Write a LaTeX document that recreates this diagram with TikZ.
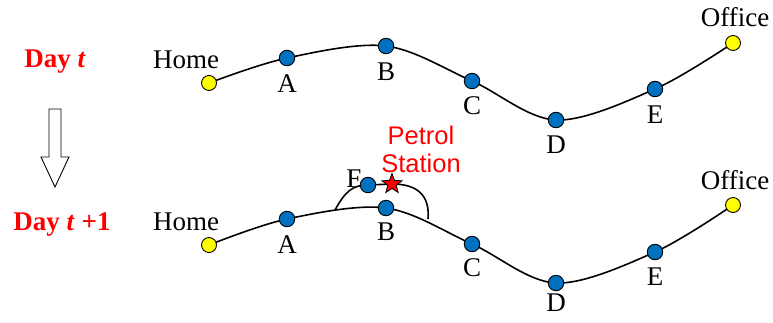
\documentclass[tikz,border=0pt]{standalone}
\usepackage{fontspec}
\setmainfont{Liberation Serif}
\newfontfamily\arialfont{Liberation Sans}
\usetikzlibrary{shapes.geometric,calc}
\definecolor{dotblue}{RGB}{0,112,192}
\definecolor{dotyellow}{RGB}{255,255,0}
\definecolor{lblred}{RGB}{255,0,0}
\tikzset{
  stop/.style={circle,draw=black,line width=0.9pt,fill=dotblue,minimum size=15.5pt,inner sep=0pt},
  endp/.style={circle,draw=black,line width=0.9pt,fill=dotyellow,minimum size=15pt,inner sep=0pt},
  lbl/.style={font=\fontsize{27}{30}\selectfont,inner sep=0pt},
  daylbl/.style={font=\fontsize{27}{30}\selectfont\bfseries,text=lblred,inner sep=0pt},
  route/.style={line width=1.6pt,black},
  pstar/.style={star,star points=5,star point ratio=2.4,draw=black,line width=0.8pt,fill=lblred,minimum size=21pt,inner sep=0pt}
}
\begin{document}
\begin{tikzpicture}[x=1pt,y=-1pt]
\useasboundingbox (0,0) rectangle (773,322);
% ---------- Day t ----------
\coordinate (h1) at (209,83);
\coordinate (a1) at (287,58);
\coordinate (b1) at (386,46);
\coordinate (c1) at (472,81);
\coordinate (d1) at (556,120);
\coordinate (e1) at (655,89);
\coordinate (o1) at (733,43);
\draw[route] plot[smooth,tension=0.55] coordinates {(h1) (a1) (b1) (c1) (d1) (e1) (o1)};
\node[endp] (home1) at (h1) {};
\node[stop] (A1) at (a1) {};
\node[stop] (B1) at (b1) {};
\node[stop] (C1) at (c1) {};
\node[stop] (D1) at (d1) {};
\node[stop] (E1) at (e1) {};
\node[endp] (office1) at (o1) {};
\node[lbl] (homet1) at (186,60) {Home};
\node[lbl] (at1) at (287,84) {A};
\node[lbl] (bt1) at (386,72) {B};
\node[lbl] (ct1) at (472,106) {C};
\node[lbl] (dt1) at (556,145) {D};
\node[lbl] (et1) at (655,115) {E};
\node[lbl] (officet1) at (735,17) {Office};
% ---------- Day t+1 ----------
\coordinate (h2) at (209,245);
\coordinate (a2) at (287,219);
\coordinate (b2) at (386,208);
\coordinate (c2) at (472,244);
\coordinate (d2) at (556,283);
\coordinate (e2) at (655,252);
\coordinate (o2) at (733,205);
\draw[route] plot[smooth,tension=0.55] coordinates {(h2) (a2) (b2) (c2) (d2) (e2) (o2)};
% detour
\coordinate (dstart) at (335,210);
\coordinate (dend) at (428,219);
\coordinate (f2) at (368,185);
\coordinate (s2) at (392,184);
\draw[route] (dstart) .. controls (345,192) and (352,185) .. (f2) -- (s2)
  .. controls (418,184) and (430,196) .. (dend);
\node[endp] (home2) at (h2) {};
\node[stop] (A2) at (a2) {};
\node[stop] (B2) at (b2) {};
\node[stop] (C2) at (c2) {};
\node[stop] (D2) at (d2) {};
\node[stop] (E2) at (e2) {};
\node[endp] (office2) at (o2) {};
\node[stop] (F2) at (f2) {};
\node[pstar] (star) at (s2) {};
\node[lbl] (homet2) at (186,222) {Home};
\node[lbl] (at2) at (287,245) {A};
\node[lbl] (bt2) at (386,232) {B};
\node[lbl] (ct2) at (472,268) {C};
\node[lbl] (dt2) at (556,303) {D};
\node[lbl] (et2) at (655,277) {E};
\node[lbl] (ft2) at (354,179) {F};
\node[lbl] (officet2) at (735,180) {Office};
\node[font=\arialfont\fontsize{25.5}{28}\selectfont,text=lblred,align=center,inner sep=0pt] (petrol) at (421,149) {Petrol\\Station};
% ---------- Day labels and arrow ----------
\node[daylbl] (day1) at (55,62) {Day \textit{t}};
\node[daylbl] (day2) at (62,224) {Day \textit{t} +1};
\draw[line width=0.9pt,fill=white] (49,109) -- (61,109) -- (61,157) -- (69,157) -- (55,187) -- (41,157) -- (49,157) -- cycle;
\end{tikzpicture}
\end{document}
